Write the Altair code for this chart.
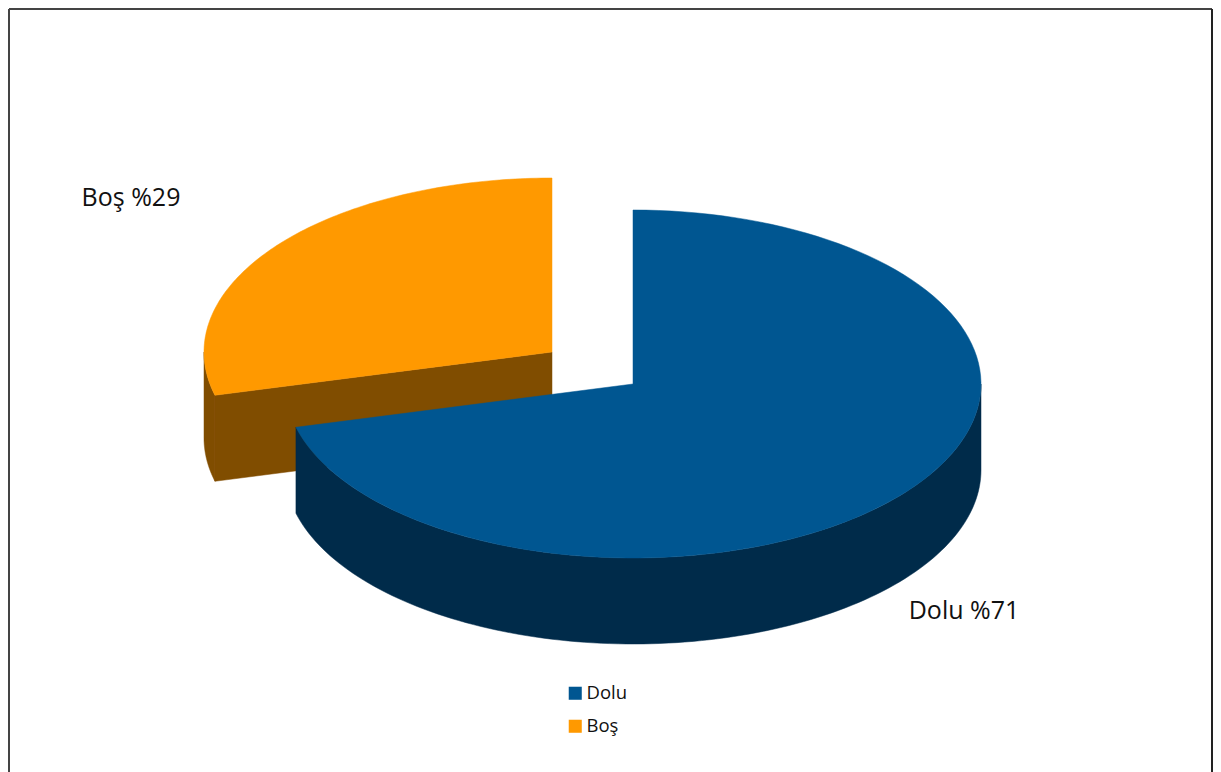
import math
import altair as alt
import pandas as pd

names = ["Dolu", "Boş"]
shares = [71, 29]
labels = ["Dolu %71", "Boş %29"]
top_colors = ["#005691", "#ff9900"]
wall_colors = ["#002b4a", "#804d00"]

W, H = 1205, 764
RX, RY, DEPTH = 348, 174, 86
CENTERS = {"Dolu": (625, 376), "Boş": (544, 344)}   # plot-area units
LABEL_POS = {"Dolu": (956, 603), "Boş": (123, 190)}


def pt(c, t, dy=0):
    return c[0] + RX * math.sin(t), c[1] - RY * math.cos(t) + dy


def arc(c, a, b, dy=0, n=120):
    return [pt(c, a + (b - a) * i / n, dy) for i in range(n + 1)]


split = 2 * math.pi * shares[0] / sum(shares)
start_blue, end_blue = 0.0, split
start_or, end_or = split, 2 * math.pi
cb, co = CENTERS["Dolu"], CENTERS["Boş"]

polys = []  # (id, name, points, kind)
a = arc(co, start_or, 1.5 * math.pi)
polys.append(("w1", "Boş", a + arc(co, 1.5 * math.pi, start_or, DEPTH), "wall"))
p = pt(co, start_or)
polys.append(("w2", "Boş", [p, co, (co[0], co[1] + DEPTH), (p[0], p[1] + DEPTH)], "wall"))
polys.append(("t2", "Boş", [co] + arc(co, start_or, end_or), "top"))
a = arc(cb, 0.5 * math.pi, end_blue)
polys.append(("w3", "Dolu", a + arc(cb, end_blue, 0.5 * math.pi, DEPTH), "wall"))
polys.append(("t1", "Dolu", [cb] + arc(cb, start_blue, end_blue), "top"))

x_scale = alt.Scale(domain=[0, W], range=[0, W], nice=False, zero=False)
y_scale = alt.Scale(domain=[0, H], range=[0, H], nice=False, zero=False)
X = lambda f: alt.X(f, type="quantitative", scale=x_scale, axis=None)
Y = lambda f: alt.Y(f, type="quantitative", scale=y_scale, axis=None)

layers = []
for pid, name, pts, kind in polys:
    df = pd.DataFrame({"x": [q[0] for q in pts], "y": [q[1] for q in pts], "o": range(len(pts))})
    i = names.index(name)
    color = top_colors[i] if kind == "top" else wall_colors[i]
    layers.append(
        alt.Chart(df).mark_line(fill=color, stroke=color, strokeWidth=0.5, interpolate="linear-closed").encode(
            x=X("x"), y=Y("y"), order=alt.Order("o", type="quantitative")
        )
    )

legend_df = pd.DataFrame({"name": names, "x": [-50, -50], "y": [-50, -50]})
legend_layer = alt.Chart(legend_df).mark_square(size=0, opacity=1, clip=True).encode(
    x=X("x"), y=Y("y"),
    fill=alt.Fill("name:N", sort=names,
                  scale=alt.Scale(domain=names, range=top_colors),
                  legend=alt.Legend(title=None, orient="none", legendX=558, legendY=676,
                                    symbolType="square", symbolSize=170, symbolStrokeWidth=0,
                                    labelFont="Open Sans", labelFontSize=18.5, labelColor="#111111",
                                    labelOffset=2, rowPadding=14, symbolOpacity=1)),
)

label_df = pd.DataFrame({
    "label": labels,
    "x": [LABEL_POS[n][0] for n in names],
    "y": [LABEL_POS[n][1] for n in names],
})
text_layer = alt.Chart(label_df).mark_text(
    font="Open Sans", fontSize=25, color="#111111", align="center", baseline="middle"
).encode(x=X("x"), y=Y("y"), text="label:N")

frame_df = pd.DataFrame({"a": [1.0], "b": [W - 1.0], "t": [1.0], "bot": [H + 0.0]})
frame = [
    alt.Chart(frame_df).mark_rule(color="#444444", strokeWidth=2).encode(x=X("a"), x2="b:Q", y=Y("t")),
    alt.Chart(frame_df).mark_rule(color="#444444", strokeWidth=2).encode(x=X("a"), y=Y("t"), y2="bot:Q"),
    alt.Chart(frame_df).mark_rule(color="#222222", strokeWidth=2).encode(x=X("b"), y=Y("t"), y2="bot:Q"),
]

chart = alt.layer(*frame, *layers, text_layer, legend_layer).properties(
    width=W, height=H, padding=0, background="white"
).configure_view(stroke=None)

chart.save("out.html", embed_options={"renderer": "svg", "actions": False})
